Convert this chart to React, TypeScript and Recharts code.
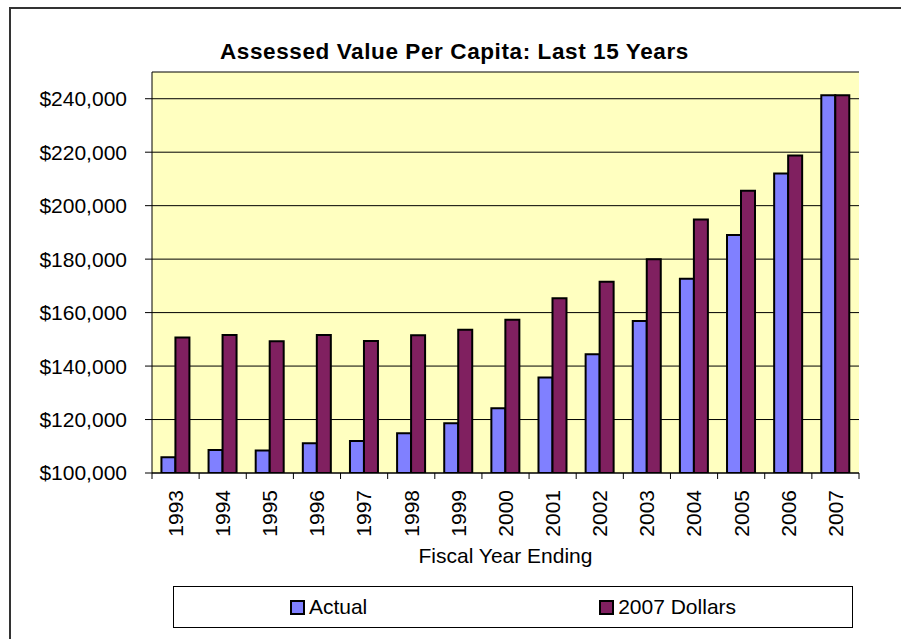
import React from 'react';
import { BarChart, Bar, XAxis, YAxis, CartesianGrid, Legend } from 'recharts';

const years = ['1993', '1994', '1995', '1996', '1997', '1998', '1999', '2000', '2001', '2002', '2003', '2004', '2005', '2006', '2007'];
const actual = [105900, 108600, 108400, 111100, 112000, 114900, 118600, 124200, 135700, 144400, 156900, 172700, 189000, 212000, 241300];
const dollars2007 = [150700, 151600, 149300, 151600, 149400, 151500, 153600, 157300, 165400, 171500, 180000, 194800, 205600, 218800, 241300];
const yTicks = [100000, 120000, 140000, 160000, 180000, 200000, 220000, 240000];
const seriesOrder = ['actual', 'real'];

const data = years.map((year, i) => ({ year, actual: actual[i], real: dollars2007[i] }));

const FONT = 'Arial, "Liberation Sans", sans-serif';
const money = (v: number) => '$' + v.toLocaleString('en-US');

// year label rotated, plus tick marks on the category boundaries
const YearTick = (props: any) => {
  const { x, y, payload, index } = props;
  const half = payload.offset || 0;
  const last = index === years.length - 1;
  return (
    <g>
      <line x1={x - half} y1={y} x2={x - half} y2={y + 6} stroke="#000" />
      {last && <line x1={x + half} y1={y} x2={x + half} y2={y + 6} stroke="#000" />}
      <text
        transform={`translate(${x},${y + 17}) rotate(-90)`}
        textAnchor="end"
        dy="0.35em"
        fontSize={21}
        fill="#000"
      >
        {payload.value}
      </text>
    </g>
  );
};

const LegendBox = ({ payload }: any) => {
  const items = [...(payload || [])].sort(
    (a: any, b: any) => seriesOrder.indexOf(a.dataKey) - seriesOrder.indexOf(b.dataKey)
  );
  return (
    <div
      style={{
        boxSizing: 'border-box',
        width: '100%',
        height: '100%',
        border: '1px solid #000',
        display: 'flex',
        alignItems: 'center',
        justifyContent: 'space-around',
        fontSize: 21,
        color: '#000',
      }}
    >
      {items.map((p: any) => (
        <div key={p.value} style={{ display: 'flex', alignItems: 'center' }}>
          <span
            style={{
              display: 'inline-block',
              boxSizing: 'border-box',
              width: 15,
              height: 15,
              background: p.color,
              border: '2px solid #000',
              marginRight: 4,
            }}
          />
          <span>{p.value}</span>
        </div>
      ))}
    </div>
  );
};

export default function App() {
  return (
    <div
      style={{
        position: 'absolute',
        left: 0,
        top: 0,
        width: 901,
        height: 639,
        overflow: 'hidden',
        background: '#fff',
        fontFamily: FONT,
      }}
    >
      <div
        style={{
          position: 'absolute',
          left: 9,
          top: 7,
          width: 1000,
          height: 1000,
          border: '2px solid #333',
        }}
      />
      <div
        style={{
          position: 'absolute',
          left: 220,
          top: 41,
          fontSize: 22.5,
          lineHeight: '22.5px',
          fontWeight: 'bold',
          letterSpacing: 0.6,
          whiteSpace: 'nowrap',
          color: '#000',
        }}
      >
        Assessed Value Per Capita: Last 15 Years
      </div>
      <BarChart
        width={901}
        height={639}
        data={data}
        margin={{ top: 72, right: 42, bottom: 0, left: 0 }}
        barCategoryGap="20%"
        barGap={0}
      >
        <CartesianGrid vertical={false} stroke="#000" fill="#FFFFC0" />
        <XAxis
          dataKey="year"
          height={166}
          interval={0}
          tickLine={false}
          tickSize={0}
          tickMargin={0}
          axisLine={{ stroke: '#000' }}
          tick={<YearTick />}
          label={{ value: 'Fiscal Year Ending', position: 'insideTop', offset: 75, fill: '#000', fontSize: 21 }}
        />
        <XAxis
          xAxisId="top"
          dataKey="year"
          orientation="top"
          height={0}
          tick={false}
          tickLine={false}
          axisLine={{ stroke: '#808080' }}
        />
        <YAxis
          width={152}
          domain={[100000, 250000]}
          ticks={yTicks}
          allowDataOverflow
          tickFormatter={money}
          tickSize={7}
          tickMargin={18}
          axisLine={{ stroke: '#000' }}
          tickLine={{ stroke: '#000' }}
          tick={{ fill: '#000', fontSize: 21 }}
        />
        <YAxis
          yAxisId="right"
          orientation="right"
          width={0}
          domain={[100000, 250000]}
          tick={false}
          tickLine={false}
          axisLine={{ stroke: '#808080' }}
        />
        <Legend
          layout="horizontal"
          verticalAlign="middle"
          wrapperStyle={{ position: 'absolute', left: 173, top: 586, width: 680, height: 42 }}
          content={<LegendBox />}
        />
        <Bar dataKey="actual" name="Actual" fill="#8080FF" stroke="#000" strokeWidth={2} isAnimationActive={false} />
        <Bar dataKey="real" name="2007 Dollars" fill="#802060" stroke="#000" strokeWidth={2} isAnimationActive={false} />
      </BarChart>
    </div>
  );
}
